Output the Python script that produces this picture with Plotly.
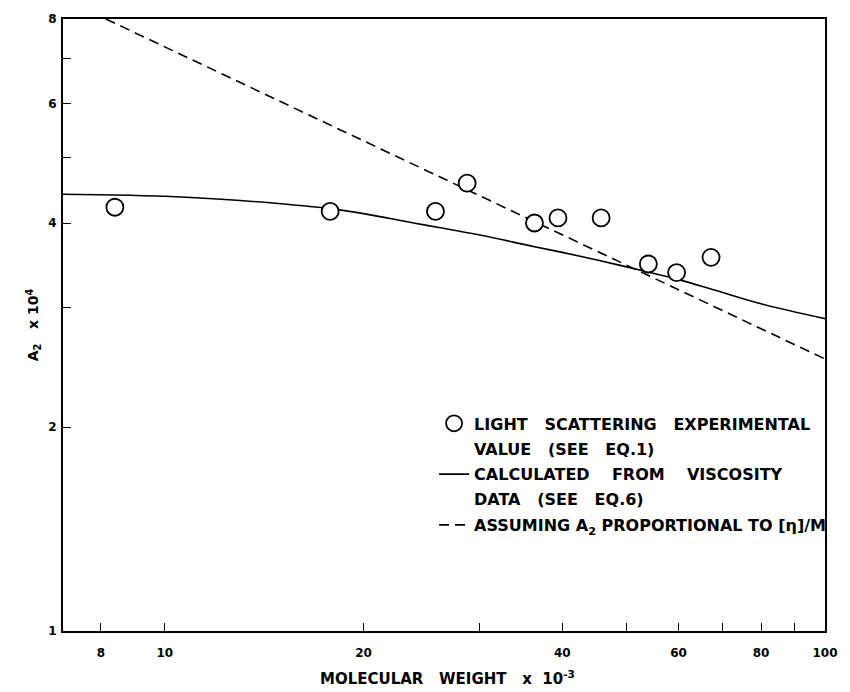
import plotly.graph_objects as go

# Light scattering experimental values
ls_x = [8.4, 17.8, 25.7, 28.7, 36.3, 39.4, 45.8, 54.0, 59.6, 67.2]
ls_y = [4.22, 4.16, 4.16, 4.58, 4.00, 4.07, 4.07, 3.48, 3.38, 3.56]

# Calculated from viscosity data (solid curve)
calc_x = [7, 8.4, 10, 12, 15, 17.8, 20, 23.8, 26, 30, 36.3, 40, 45, 53, 60, 67, 80, 100]
calc_y = [4.41, 4.40, 4.38, 4.34, 4.27, 4.20, 4.13, 4.00, 3.94, 3.84, 3.69, 3.62, 3.53, 3.40, 3.30, 3.20, 3.04, 2.89]

# Assuming A2 proportional to [eta]/M (dashed line)
prop_x = [8.14, 100]
prop_y = [8.0, 2.52]

x_tickvals = [8, 10, 20, 30, 40, 50, 60, 70, 80, 90, 100]
x_ticktext = ["8", "10", "20", "", "40", "", "60", "", "80", "", "100"]
y_tickvals = [1, 2, 3, 4, 5, 6, 7, 8]
y_ticktext = ["1", "2", "", "4", "", "6", "", "8"]

FONT = "DejaVu Sans"


def sp(n):
    return "\u00a0" * n


leg_ls = ["LIGHT" + sp(3) + "SCATTERING" + sp(3) + "EXPERIMENTAL",
          "VALUE" + sp(3) + "(SEE" + sp(3) + "EQ.1)"]
leg_calc = ["CALCULATED" + sp(4) + "FROM" + sp(4) + "VISCOSITY",
            "DATA" + sp(3) + "(SEE" + sp(3) + "EQ.6)"]
leg_prop = ("ASSUMING" + sp(1) + "A<sub>2</sub>" + sp(1) + "PROPORTIONAL" + sp(1) + "TO"
            + sp(1) + "[η]/M")

fig = go.Figure()

fig.add_trace(go.Scatter(
    x=calc_x, y=calc_y, mode="lines", line=dict(color="black", width=1.6, shape="spline"),
    name=leg_calc[0], legendrank=2, legendgroup="b"))

fig.add_trace(go.Scatter(
    x=prop_x, y=prop_y, mode="lines", line=dict(color="black", width=1.6, dash="10px,6px"),
    name=leg_prop, legendrank=3, legendgroup="c"))

fig.add_trace(go.Scatter(
    x=ls_x, y=ls_y, mode="markers",
    marker=dict(symbol="circle", size=17, color="white", line=dict(color="black", width=1.8)),
    name=leg_ls[0], legendrank=1, legendgroup="a"))

axis_common = dict(
    type="log", showgrid=False, zeroline=False, showline=True, linecolor="black", linewidth=1.8,
    mirror=True, ticks="inside", ticklen=8, tickwidth=1.4, tickcolor="black",
    tickfont=dict(family=FONT, size=12, color="black", weight="bold"),
)

fig.update_xaxes(**axis_common, range=[0.8457, 2.0], tickvals=x_tickvals, ticktext=x_ticktext,
                 ticklabelstandoff=10)
fig.update_yaxes(**axis_common, range=[0.0, 0.90309], tickvals=y_tickvals, ticktext=y_ticktext,
                 ticklabelstandoff=2,
                 title=dict(text="A<sub>2</sub>" + sp(3) + "x" + sp(1) + "10<sup>4</sup>",
                            font=dict(family=FONT, size=14, color="black", weight="bold"),
                            standoff=6))

legfont = dict(family=FONT, size=16, color="black", weight="bold")
titlefont = dict(family=FONT, size=15, color="black", weight="bold")

fig.add_annotation(
    text="MOLECULAR" + sp(3) + "WEIGHT" + sp(3) + "x" + sp(2) + "10<sup>-3</sup>",
    xref="paper", yref="paper", x=0.505, y=-0.058,
    xanchor="center", yanchor="top", showarrow=False, font=titlefont)

# second lines of the two-line legend entries
fig.add_annotation(text=leg_ls[1], xref="paper", yref="paper", x=0.5365, y=0.296,
                   xanchor="left", yanchor="middle", showarrow=False, font=legfont)
fig.add_annotation(text=leg_calc[1], xref="paper", yref="paper", x=0.5365, y=0.215,
                   xanchor="left", yanchor="middle", showarrow=False, font=legfont)

fig.update_layout(
    width=850, height=692, margin=dict(l=63, r=14, t=19, b=61),
    paper_bgcolor="white", plot_bgcolor="white",
    showlegend=True,
    legend=dict(x=0.487, y=0.367, xanchor="left", yanchor="top", bgcolor="rgba(0,0,0,0)",
                font=legfont, tracegroupgap=27, traceorder="grouped"),
)

fig.write_html("out.html")
